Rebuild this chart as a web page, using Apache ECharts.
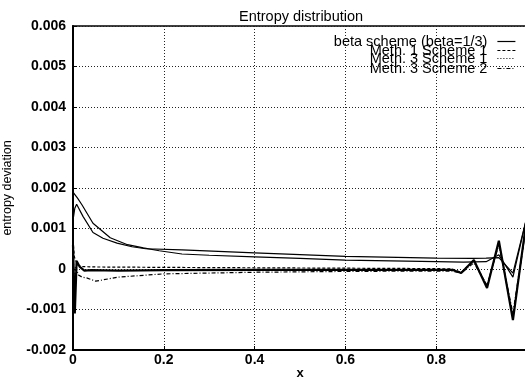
<!DOCTYPE html>
<html>
<head>
<meta charset="utf-8">
<script src="https://cdn.jsdelivr.net/npm/echarts@6/dist/echarts.min.js"></script>
<style>html,body{margin:0;padding:0;background:#fff}#c{width:525px;height:381px}</style>
</head>
<body>
<div id="c"></div>
<script>
// ---- data ----
var seriesNames = ['beta scheme (beta=1/3)', 'Meth. 1 Scheme 1', 'Meth. 3 Scheme 1', 'Meth. 3 Scheme 2'];

var betaX = [0, 0.01, 0.02, 0.044, 0.082, 0.12, 0.155, 0.19, 0.24, 0.3, 0.4, 0.5, 0.6, 0.7, 0.8, 0.86, 0.91, 0.938, 0.969, 1.0];
var betaY = [0.0019, 0.00175, 0.00158, 0.00113, 0.00077, 0.0006, 0.00052, 0.00045, 0.00037, 0.00034, 0.0003, 0.00026, 0.00022, 0.0002, 0.00018, 0.00017, 0.00018, 0.00035, -0.0002, 0.0013];

var m1s1X = [0, 0.004, 0.008, 0.022, 0.044, 0.066, 0.097, 0.13, 0.16, 0.24, 0.4, 0.6, 0.8, 0.88, 0.91, 0.938, 0.969, 1.0];
var m1s1Y = [0.0012, 0.0015, 0.0016, 0.0013, 0.0009, 0.00076, 0.00064, 0.00055, 0.0005, 0.00047, 0.0004, 0.00031, 0.00027, 0.00026, 0.00027, 0.00028, -0.0001, 0.0013];

var m3s1X = [0, 0.004, 0.008, 0.015, 0.025, 0.04, 0.1, 0.2, 0.4, 0.6, 0.8, 0.835, 0.855, 0.883, 0.912, 0.938, 0.969, 1.0];
var m3s1Y = [0.0006, -0.0011, 0.0002, 0.00005, -0.00004, -0.00003, -0.00004, -0.00003, -0.00002, -0.00002, -0.00002, -0.00002, -0.0001, 0.00022, -0.00047, 0.0007, -0.00126, 0.0013];

var m3s2X = [0, 0.003, 0.006, 0.012, 0.02, 0.03, 0.05, 0.1, 0.2, 0.4, 0.6, 0.8, 0.835, 0.855, 0.883, 0.912, 0.938, 0.969, 1.0];
var m3s2Y = [0.0005, -0.0004, 0.00005, -0.00015, -0.0002, -0.00022, -0.0003, -0.0002, -0.00012, -0.00008, -0.00006, -0.00005, -0.00005, -0.0001, 0.00015, -0.0004, 0.0006, -0.0011, 0.0012];

var extraX = [0, 0.003, 0.01, 0.02, 0.05, 0.2, 0.4, 0.6, 0.8, 0.835, 0.855, 0.883, 0.912, 0.938, 0.969, 1.0];
var extraY = [0.0007, 0.0003, 0.0001, 0.00006, 0.00005, 0.00004, 0.00003, 0.00002, 0.00001, 0.0, -0.00008, 0.0002, -0.00042, 0.00065, -0.0012, 0.0012];

var xTicks = [0, 0.2, 0.4, 0.6, 0.8, 1];
var yTicks = [-0.002, -0.001, 0, 0.001, 0.002, 0.003, 0.004, 0.005, 0.006];

function pairs(xs, ys) { return xs.map(function (x, i) { return [x, ys[i]]; }); }

var FONT = 'Liberation Sans';
var legendDash = ['solid', [3, 2], [1, 2], [4, 2, 1, 2]];
var legendTops = [34, 43, 51, 61];
var legends = seriesNames.map(function (n, i) {
  return {
    orient: 'vertical', right: 9, top: legendTops[i], align: 'right', padding: 0,
    itemWidth: 18, itemHeight: 10,
    textStyle: { fontFamily: FONT, fontSize: 14.5, color: '#000', padding: [0, 5, 0, 0] },
    data: [{ name: n, itemStyle: { opacity: 0 }, lineStyle: { type: legendDash[i], width: 1.2, color: '#000' } }]
  };
});

var chart = echarts.init(document.getElementById('c'), null, { renderer: 'canvas' });
chart.setOption({
  animation: false,
  backgroundColor: '#fff',
  title: {
    text: 'Entropy distribution', left: 234, top: 4,
    textStyle: { fontFamily: FONT, fontSize: 14.5, fontWeight: 'normal', color: '#000' }
  },
  legend: legends,
  grid: { left: 73, right: -2, top: 26, bottom: 31, containLabel: false, outerBoundsMode: 'none',
    show: true, borderColor: '#000', borderWidth: 1.5 },
  xAxis: {
    type: 'value', min: 0, max: 1, interval: 0.2,
    name: 'x', nameLocation: 'middle', nameGap: 17, nameMoveOverlap: false,
    nameTextStyle: { fontFamily: FONT, fontSize: 13, fontWeight: 'bold', color: '#000' },
    axisLine: { onZero: false, lineStyle: { color: '#000', width: 2 } },
    axisTick: { inside: true, length: 4, lineStyle: { color: '#000' } },
    axisLabel: {
      fontFamily: FONT, fontSize: 14, fontWeight: 'bold', color: '#000', margin: 3, showMaxLabel: false,
      formatter: function (v) { return v === 0 ? '0' : String(+v.toFixed(1)); }
    },
    splitLine: { show: true, lineStyle: { color: '#222', type: [1, 2], width: 1 } }
  },
  yAxis: {
    type: 'value', min: -0.002, max: 0.006, interval: 0.001,
    name: 'entropy deviation', nameLocation: 'middle', nameGap: 59, nameMoveOverlap: false,
    nameTextStyle: { fontFamily: FONT, fontSize: 12.5, color: '#000' },
    axisLine: { onZero: false, lineStyle: { color: '#000', width: 2 } },
    axisTick: { inside: true, length: 4, lineStyle: { color: '#000' } },
    axisLabel: {
      fontFamily: FONT, fontSize: 14, fontWeight: 'bold', color: '#000', margin: 7,
      formatter: function (v) { return Math.abs(v) < 1e-12 ? '0' : v.toFixed(3); }
    },
    splitLine: { show: true, lineStyle: { color: '#222', type: [1, 2], width: 1 } }
  },
  series: [
    { name: seriesNames[0], type: 'line', symbol: 'none', data: pairs(betaX, betaY),
      lineStyle: { color: '#000', width: 1.2, type: 'solid' }, itemStyle: { color: '#000' } },
    { name: seriesNames[1], type: 'line', symbol: 'none', data: pairs(m1s1X, m1s1Y),
      lineStyle: { color: '#000', width: 1.2, type: 'solid' }, itemStyle: { color: '#000' } },
    { name: seriesNames[2], type: 'line', symbol: 'none', data: pairs(m3s1X, m3s1Y),
      lineStyle: { color: '#000', width: 2.2, type: 'solid' }, itemStyle: { color: '#000' } },
    { name: seriesNames[3], type: 'line', symbol: 'none', data: pairs(m3s2X, m3s2Y),
      lineStyle: { color: '#000', width: 1.2, type: [4, 2, 1, 2] }, itemStyle: { color: '#000' } },
    { name: 'extra', type: 'line', symbol: 'none', data: pairs(extraX, extraY),
      lineStyle: { color: '#000', width: 1.2, type: [3, 2] }, itemStyle: { color: '#000' } }
  ]
});
</script>
</body>
</html>
